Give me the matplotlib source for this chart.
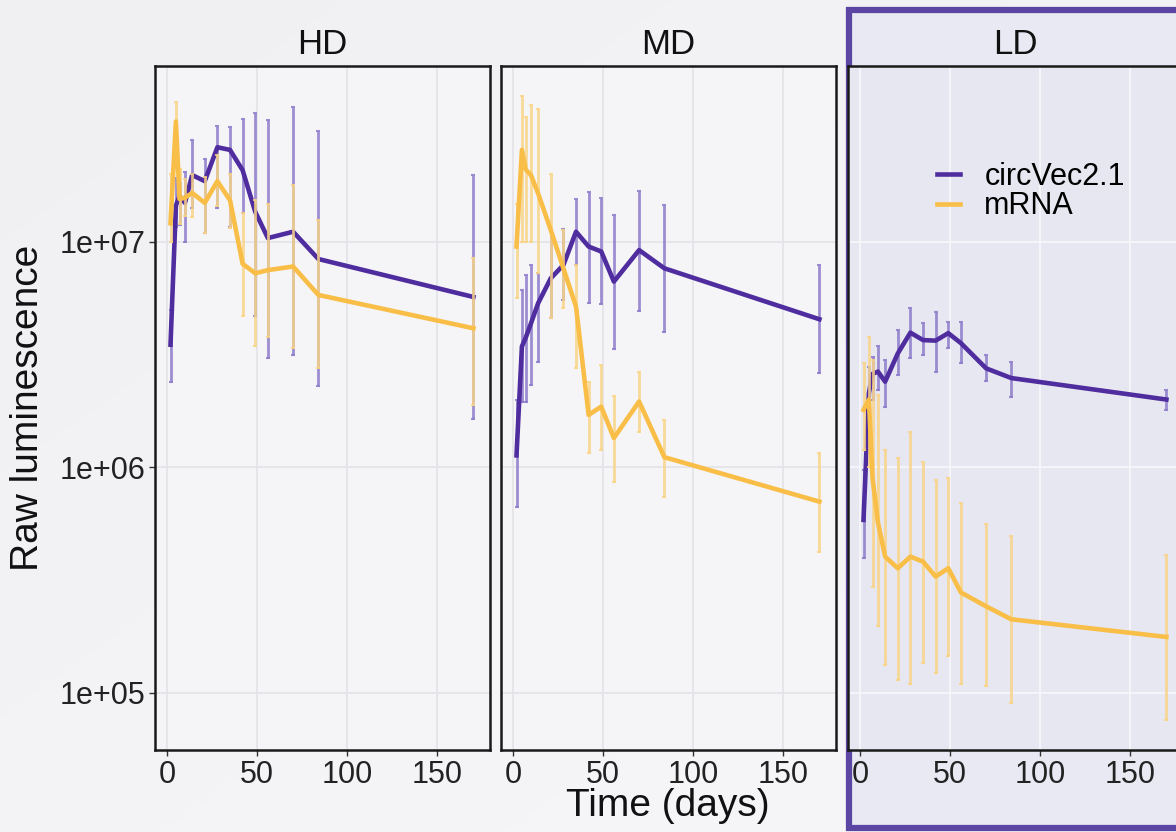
import numpy as np
import matplotlib
matplotlib.use("Agg")
import matplotlib.pyplot as plt
from matplotlib.patches import Rectangle

plt.rcParams['font.family'] = ['Liberation Sans', 'DejaVu Sans']

# -----------------------------
# Data
# -----------------------------
days = [2, 5, 7, 10, 14, 21, 28, 35, 42, 49, 56, 70, 84, 170]
panels = ["HD", "MD", "LD"]
series = ["circVec2.1", "mRNA"]

hd_circ = [3.5e6, 1.45e7, 1.6e7, 1.49e7, 1.98e7, 1.86e7, 2.63e7, 2.56e7, 2.08e7, 1.36e7, 1.04e7, 1.11e7, 8.4e6, 5.7e6]
hd_circ_lo = [2.4e6, 1.17e7, 1.19e7, 1.0e7, 1.41e7, 1.09e7, 1.41e7, 1.17e7, 1.34e7, 4.7e6, 3.05e6, 3.15e6, 2.3e6, 1.64e6]
hd_circ_hi = [5.0e6, 1.92e7, 1.82e7, 2.05e7, 2.83e7, 2.33e7, 3.27e7, 3.22e7, 3.5e7, 3.74e7, 3.47e7, 3.98e7, 3.1e7, 1.98e7]
hd_mrna = [1.21e7, 3.42e7, 1.55e7, 1.57e7, 1.65e7, 1.49e7, 1.86e7, 1.53e7, 8.0e6, 7.26e6, 7.5e6, 7.78e6, 5.82e6, 4.14e6]
hd_mrna_lo = [1.0e7, 2.4e7, 1.2e7, 1.3e7, 1.29e7, 1.1e7, 1.45e7, 1.15e7, 4.7e6, 3.44e6, 3.8e6, 3.4e6, 2.75e6, 1.9e6]
hd_mrna_hi = [2.0e7, 4.19e7, 2.1e7, 1.9e7, 2.0e7, 1.95e7, 2.43e7, 2.0e7, 1.34e7, 1.53e7, 1.48e7, 1.78e7, 1.25e7, 8.5e6]

md_circ = [1.13e6, 3.44e6, 3.74e6, 4.35e6, 5.35e6, 6.9e6, 7.9e6, 1.11e7, 9.54e6, 9.07e6, 6.67e6, 9.2e6, 7.64e6, 4.54e6]
md_circ_lo = [6.7e5, 1.96e6, 1.96e6, 2.32e6, 2.94e6, 4.59e6, 5.5e6, 7.9e6, 5.35e6, 5.3e6, 3.34e6, 4.95e6, 4.0e6, 2.62e6]
md_circ_hi = [2.0e6, 6.1e6, 7.1e6, 7.9e6, 7.26e6, 1.13e7, 1.14e7, 1.55e7, 1.67e7, 1.57e7, 1.31e7, 1.69e7, 1.46e7, 7.9e6]
md_mrna = [9.54e6, 2.56e7, 2.1e7, 1.98e7, 1.64e7, 1.13e7, 7.64e6, 5.17e6, 1.71e6, 1.86e6, 1.35e6, 1.96e6, 1.11e6, 7.05e5]
md_mrna_lo = [5.62e6, 1.0e7, 1.0e7, 1.0e7, 7.26e6, 4.59e6, 5.1e6, 2.75e6, 1.16e6, 1.2e6, 8.6e5, 1.44e6, 7.4e5, 4.2e5]
md_mrna_hi = [1.48e7, 4.43e7, 3.6e7, 4.05e7, 3.87e7, 2.0e7, 1.13e7, 7.9e6, 2.4e6, 2.85e6, 2.07e6, 2.66e6, 1.62e6, 1.16e6]

ld_circ = [5.85e5, 2.14e6, 2.6e6, 2.66e6, 2.4e6, 3.2e6, 3.96e6, 3.67e6, 3.65e6, 3.94e6, 3.56e6, 2.75e6, 2.49e6, 2.0e6]
ld_circ_lo = [3.95e5, 1.5e6, 2.0e6, 2.21e6, 1.86e6, 2.57e6, 3.05e6, 3.15e6, 2.66e6, 3.37e6, 2.9e6, 2.41e6, 2.06e6, 1.79e6]
ld_circ_hi = [9.75e5, 2.8e6, 3.1e6, 3.44e6, 3.0e6, 4.07e6, 5.08e6, 4.35e6, 4.91e6, 4.43e6, 4.43e6, 3.15e6, 2.94e6, 2.21e6]
ld_mrna = [1.8e6, 2.0e6, 9.0e5, 5.7e5, 4.02e5, 3.57e5, 4.02e5, 3.82e5, 3.28e5, 3.57e5, 2.79e5, 2.42e5, 2.12e5, 1.77e5]
ld_mrna_lo = [1.2e6, 1.0e6, 2.96e5, 1.97e5, 1.33e5, 1.14e5, 1.1e5, 1.35e5, 1.22e5, 1.45e5, 1.1e5, 1.07e5, 9.0e4, 7.6e4]
ld_mrna_hi = [2.9e6, 3.8e6, 3.0e6, 2.1e6, 1.2e6, 1.1e6, 1.44e6, 1.06e6, 8.8e5, 8.96e5, 6.98e5, 5.6e5, 4.97e5, 4.1e5]

panel_data = {
    "HD": [(hd_circ, hd_circ_lo, hd_circ_hi), (hd_mrna, hd_mrna_lo, hd_mrna_hi)],
    "MD": [(md_circ, md_circ_lo, md_circ_hi), (md_mrna, md_mrna_lo, md_mrna_hi)],
    "LD": [(ld_circ, ld_circ_lo, ld_circ_hi), (ld_mrna, ld_mrna_lo, ld_mrna_hi)],
}

line_colors = ["#4f2d9f", "#f9be48"]
bar_colors = ["#8d7bcb", "#f9d485"]

W, H = 1176, 832
fig = plt.figure(figsize=(W / 100, H / 100), dpi=100)
fig.patch.set_facecolor("#f4f4f7")

# faint diagonal background shading
bg = fig.add_axes([0, 0, 1, 1], zorder=-5)
gx, gy = np.meshgrid(np.linspace(0, 1, 200), np.linspace(0, 1, 200))
bg.imshow(gx + gy, cmap=matplotlib.colors.LinearSegmentedColormap.from_list(
    "bgc", ["#f0f0f3", "#f7f7f9"]), aspect="auto", extent=[0, 1, 0, 1], origin="upper")
bg.axis("off")

# highlight box around the LD facet
fig.patches.append(Rectangle((849 / W, 1 - 828 / H), (1210 - 849) / W, (828 - 10) / H,
                             transform=fig.transFigure, facecolor="#e9e9f3",
                             edgecolor="#5b47a3", lw=4.5, zorder=-1))

lefts = [155, 501, 848]
top, bottom = 66, 750
pw = 335

for i, name in enumerate(panels):
    ax = fig.add_axes([lefts[i] / W, 1 - bottom / H, pw / W, (bottom - top) / H])
    if name == "LD":
        ax.set_facecolor("#e7e7f1")
        gcol = "#f7f7fb"
    else:
        ax.set_facecolor("#f5f5f8")
        gcol = "#e4e4e8"
    ax.set_yscale("log")
    ax.set_xlim(-6.6, 179.2)
    ax.set_ylim(5.58e4, 6.03e7)
    ax.set_xticks([0, 50, 100, 150])
    ax.set_yticks([1e5, 1e6, 1e7])
    ax.set_yticklabels(["1e+05", "1e+06", "1e+07"])
    ax.minorticks_off()
    ax.grid(True, color=gcol, lw=1.2)
    ax.set_axisbelow(True)
    for sp in ax.spines.values():
        sp.set_linewidth(1.8)
        sp.set_color("#1a1a1a")
    ax.tick_params(axis="both", direction="out", length=4, width=1, colors="#333333",
                   labelsize=22, labelcolor="#222222", pad=3)
    if i > 0:
        ax.tick_params(axis="y", left=False, labelleft=False)

    for j, (vals, lo, hi) in enumerate(panel_data[name]):
        v = np.array(vals)
        err = [v - np.array(lo), np.array(hi) - v]
        ax.errorbar(days, vals, yerr=err, fmt="none", ecolor=bar_colors[j],
                    elinewidth=2, capsize=1.5, capthick=1.5, alpha=0.85, zorder=2 + j * 2)
        ax.plot(days, vals, color=line_colors[j], lw=3.3, solid_joinstyle="round",
                label=series[j], zorder=3 + j * 2)

    fig.text((lefts[i] + pw / 2) / W, 1 - 45 / H, name, ha="center", va="center",
             fontsize=25, color="#111111")

    if name == "LD":
        leg = ax.legend(loc="upper left", bbox_to_anchor=(937 / W, 1 - 162 / H),
                        bbox_transform=fig.transFigure, frameon=False, fontsize=22,
                        handlelength=0.75, handletextpad=0.8, labelspacing=-0.02,
                        borderpad=0, borderaxespad=0)
        for h in leg.get_lines():
            h.set_linewidth(3.3)

fig.text(28 / W, 1 - 408 / H, "Raw luminescence", rotation=90, ha="center", va="center",
         fontsize=28, color="#111111")
fig.text(668 / W, 1 - 806 / H, "Time (days)", ha="center", va="center",
         fontsize=28, color="#111111")

fig.savefig("out.png", dpi=100, facecolor=fig.get_facecolor())
